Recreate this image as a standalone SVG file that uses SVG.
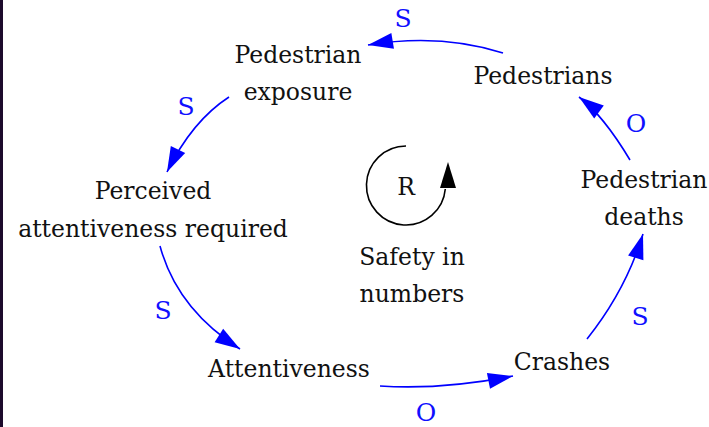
<svg xmlns="http://www.w3.org/2000/svg" width="709" height="427" viewBox="0 0 709 427">
<style>
.t{font-size:23.5px;fill:#111;text-anchor:middle}
.p{font-size:25px;fill:#1010ff;text-anchor:middle}
.c{fill:none;stroke:#0000ff;stroke-width:1.6}
</style>
<defs>
<marker id="ah" markerUnits="userSpaceOnUse" markerWidth="26" markerHeight="17" refX="25" refY="8" orient="auto" overflow="visible">
<path d="M0,0 L25,8 L0,16 Z" fill="#0000ff"/>
</marker>
</defs>
<rect x="0" y="0" width="709" height="427" fill="#ffffff"/>
<rect x="0" y="0" width="3" height="427" fill="#1c0a2c"/>
<g id="connectors">
<path class="c" d="M503,53 Q440,33 368,45" marker-end="url(#ah)"/>
<path class="c" d="M229,97 Q192,121 167,172" marker-end="url(#ah)"/>
<path class="c" d="M160,246 Q177,309 240,349" marker-end="url(#ah)"/>
<path class="c" d="M380,386 Q442,390 513,376" marker-end="url(#ah)"/>
<path class="c" d="M587,339 Q626,290 643,234" marker-end="url(#ah)"/>
<path class="c" d="M630,160 Q603,115 579,97" marker-end="url(#ah)"/>
</g>
<g font-family="DejaVu Serif, serif">
<g id="polarities">
<text class="p" x="403" y="27">S</text>
<text class="p" x="186" y="115">S</text>
<text class="p" x="636" y="132">O</text>
<text class="p" x="163" y="319">S</text>
<text class="p" x="426" y="421">O</text>
<text class="p" x="640" y="325">S</text>
</g>
<g id="pedestrian-exposure"><text class="t" x="298" y="63">Pedestrian</text><text class="t" x="298" y="100">exposure</text></g>
<g id="pedestrians"><text class="t" x="543" y="84">Pedestrians</text></g>
<g id="pedestrian-deaths"><text class="t" x="644" y="188">Pedestrian</text><text class="t" x="644" y="225">deaths</text></g>
<g id="crashes"><text class="t" x="562" y="370">Crashes</text></g>
<g id="attentiveness"><text class="t" x="289" y="377">Attentiveness</text></g>
<g id="perceived-attentiveness"><text class="t" x="153" y="199">Perceived</text><text class="t" x="153" y="237">attentiveness required</text></g>
<g id="loop">
<path d="M406,146 A39.5,39.5 0 1 0 445.3,189" fill="none" stroke="#000" stroke-width="1.6"/>
<path d="M448,162 L456,188 L440,188 Z" fill="#000"/>
<text class="t" x="406" y="195">R</text>
<text class="t" x="412" y="265">Safety in</text>
<text class="t" x="412" y="302">numbers</text>
</g>
</g>
</svg>
